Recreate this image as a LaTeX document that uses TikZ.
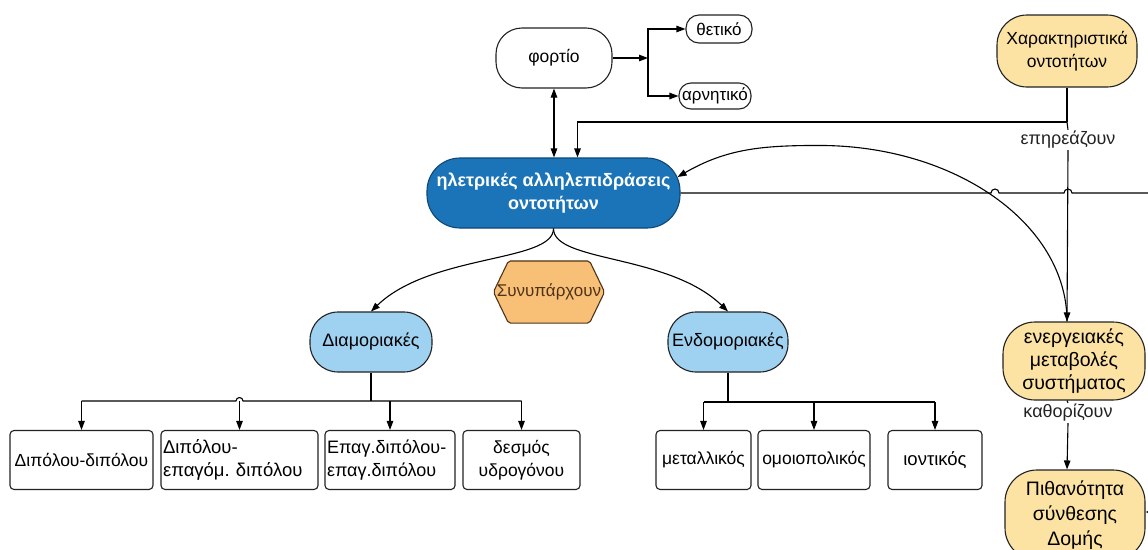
\documentclass[tikz,border=0pt]{standalone}
\usepackage{fontspec}
\setmainfont{Liberation Sans}
\usetikzlibrary{arrows.meta,shapes.misc,calc,backgrounds}
\definecolor{blueN}{HTML}{1C74B8}
\definecolor{blueB}{HTML}{0F4775}
\definecolor{lightB}{HTML}{9FD1F1}
\definecolor{yel}{HTML}{FCE3A3}
\definecolor{orng}{HTML}{F8BF77}
\definecolor{brn}{HTML}{4E3319}
\definecolor{ink}{HTML}{222222}
\frenchspacing
\newcommand{\fs}[1]{\fontsize{#1}{23}\selectfont}
\tikzset{
  pill/.style={draw=ink, align=center, inner sep=2pt},
  boxn/.style={draw=ink, rounded corners=4pt, align=center, inner sep=2pt, minimum height=59pt, font=\fs{17.5}},
  lbl/.style={inner sep=1pt, text=ink},
}
\begin{document}
\begin{tikzpicture}[x=1pt,y=1pt,
  font=\fs{18},
  >={Triangle[length=9pt,width=6.5pt]}]
\begin{scope}[on background layer]
\fill[white] (0,0) rectangle (1148,-549);
\end{scope}
\useasboundingbox (0,0) rectangle (1148,-549);
\begin{scope}[line width=1.1pt]
% nodes
\node[pill, minimum width=116pt, minimum height=60pt, rounded corners=26pt, font=\fs{17.5}] (fort) at (554,-58) {φορτίο};
\node[pill, minimum width=66pt, minimum height=28pt, rounded corners=13pt, font=\fs{17}, inner sep=0pt] (thet) at (719,-29) {θετικό};
\node[pill, minimum width=72pt, minimum height=26pt, rounded corners=12pt, font=\fs{17}, inner sep=0pt] (arn) at (715,-96) {αρνητικό};
\node[pill, fill=yel, minimum width=140pt, minimum height=72pt, rounded corners=30pt, font=\fs{17.5}] (char) at (1067,-51) {Χαρακτηριστικά\\οντοτήτων};
\node[pill, draw=blueB, fill=blueN, text=white, font=\fs{18}\bfseries, minimum width=253pt, minimum height=70pt, rounded corners=33pt] (ilek) at (553.5,-193) {ηλετρικές αλληλεπιδράσεις\\οντοτήτων};
\node[inner sep=0pt, text=brn, minimum width=110pt, minimum height=61pt, font=\fs{17}] (coex) at (549,-292) {Συνυπάρχουν};
\begin{scope}[on background layer]
\path[draw=brn, fill=orng, line width=1.1pt, rounded corners=2pt] (coex.west) -- ($(coex.north west)+(15,0)$) -- ($(coex.north east)+(-15,0)$) -- (coex.east) -- ($(coex.south east)+(-15,0)$) -- ($(coex.south west)+(15,0)$) -- cycle;
\end{scope}
\node[pill, fill=lightB, minimum width=122pt, minimum height=60pt, rounded corners=28pt] (dia) at (371,-342) {Διαμοριακές};
\node[pill, fill=lightB, minimum width=120pt, minimum height=60pt, rounded corners=28pt, inner sep=0pt] (endo) at (728,-342) {Ενδομοριακές};
\node[boxn, minimum width=143pt] (b1) at (81.5,-460) {Διπόλου-διπόλου};
\node[boxn, minimum width=157pt, text width=153pt, align=left, inner sep=2pt, font=\fs{18.5}] (b2) at (239.5,-460) {Διπόλου-\\επαγόμ. διπόλου};
\node[boxn, minimum width=130pt, text width=126pt, align=left, inner sep=2pt, font=\fs{18}] (b3) at (390,-460) {Επαγ.διπόλου-\\επαγ.διπόλου};
\node[boxn, minimum width=117pt] (b4) at (521.5,-460) {δεσμός\\υδρογόνου};
\node[boxn, minimum width=95pt] (m1) at (703.5,-460) {μεταλλικός};
\node[boxn, minimum width=112pt] (m2) at (814,-460) {ομοιοπολικός};
\node[boxn, minimum width=94pt, font=\fs{18.5}] (m3) at (935,-460) {ιοντικός};
\node[pill, fill=yel, minimum width=142pt, minimum height=78pt, rounded corners=32pt, font=\fs{19.5}] (energ) at (1074,-361) {ενεργειακές\\μεταβολές\\συστήματος};
\node[pill, fill=yel, minimum width=140pt, minimum height=90pt, rounded corners=32pt, font=\fontsize{19.5}{25}\selectfont] (prob) at (1075,-515) {Πιθανότητα\\σύνθεσης\\Δομής};
\node[lbl] (lab1) at (1068,-140) {επηρεάζουν};
\node[lbl] (lab2) at (1068,-413) {καθορίζουν};
% coordinates
\coordinate (fj) at (648,-58);
\coordinate (j1) at (char.south |- 0,-122);
\coordinate (ej) at (char.south |- energ.north);
\coordinate (pj) at (char.south |- prob.north);
\coordinate (ilekR) at ($(ilek.east)+(-3,16)$);
\coordinate (redge) at (1150,-193);
\coordinate (rin) at (1150,-512);
\coordinate (bus1) at (dia.south |- 0,-401);
\coordinate (bus2) at (endo.south |- 0,-402);
% connectors
\draw[->] (fort.east) -- (fj);
\draw[->] (fj) |- (thet.west);
\draw[->] (fj) |- (arn.west);
\draw[<->] (fort.south) -- (fort.south |- ilek.north);
\draw (char.south) -- (j1);
\draw[->] (j1) -| ($(ilek.north)+(24,0)$);
\draw (j1) -- (lab1.north);
\draw[->] (lab1.south) -- (ej);
\draw[->] (ej) arc[start angle=0, end angle=90, x radius=248, y radius=176] to[out=180, in=30] (ilekR);
\draw (ilek.east) -- (991,-193) arc[start angle=180, end angle=0, radius=4] -- (1064,-193) arc[start angle=180, end angle=0, radius=4] -- (redge);
\draw (energ.south -| ej) -- (lab2.north);
\draw[->] (lab2.south) -- (pj);
\draw[->] (rin) -- (rin -| prob.east);
\draw[->] (ilek.south) .. controls +(0,-34) and +(60,58) .. (dia.north);
\draw[->] (ilek.south) .. controls +(0,-34) and +(-60,58) .. (endo.north);
% bus 1
\draw (dia.south) -- (bus1);
\draw (b1.north |- bus1) -- ($(b2.north |- bus1)+(-3.5,0)$) arc[start angle=180, end angle=0, radius=3.5] -- (b4.north |- bus1);
\draw[->] (b1.north |- bus1) -- (b1.north);
\draw[->] (b2.north |- bus1) -- (b2.north);
\draw[->] (b3.north |- bus1) -- (b3.north);
\draw[->] (b4.north |- bus1) -- (b4.north);
% bus 2
\draw (endo.south) -- (bus2);
\draw (m1.north |- bus2) -- (m3.north |- bus2);
\draw[->] (m1.north |- bus2) -- (m1.north);
\draw[->] (m2.north |- bus2) -- (m2.north);
\draw[->] (m3.north |- bus2) -- (m3.north);
\end{scope}
\end{tikzpicture}
\end{document}
